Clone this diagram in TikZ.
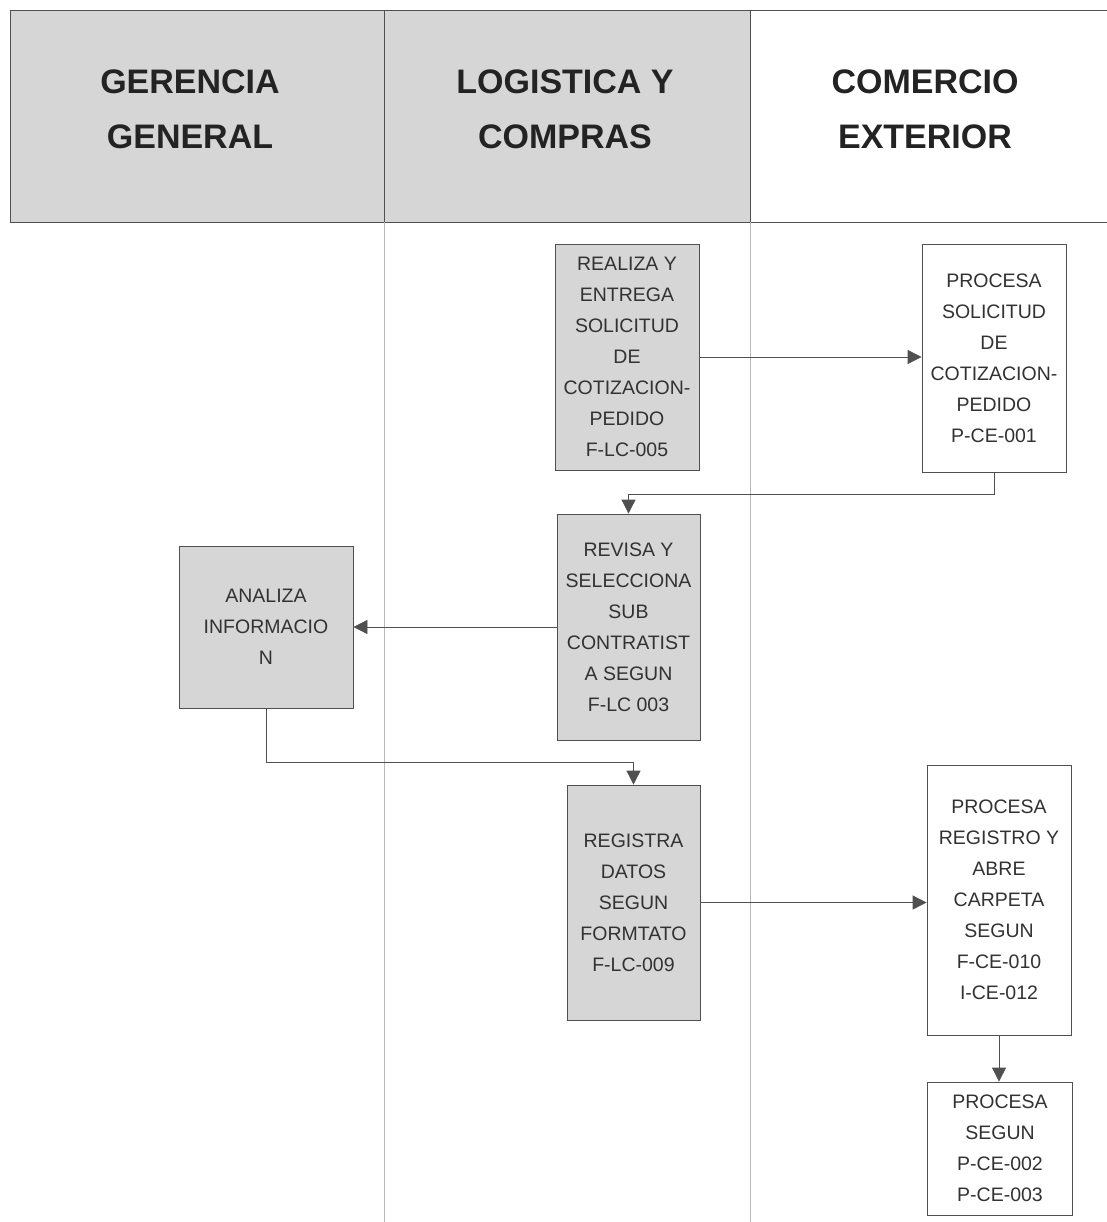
\documentclass[tikz,border=0pt]{standalone}
\usepackage{fontspec}
\setmainfont{Liberation Sans}
\usetikzlibrary{arrows.meta}
\definecolor{lanegray}{RGB}{214,214,214}
\definecolor{ink}{RGB}{50,50,50}
\definecolor{rule}{RGB}{80,80,80}
\begin{document}
\begin{tikzpicture}[x=1pt,y=-1pt,
  lanehead/.style={font=\fontsize{34}{55}\selectfont\bfseries, text=ink!70!black, align=center, inner sep=0},
  procbox/.style={draw=rule, line width=0.8pt, inner sep=0, align=center,
    text=ink, font=\fontsize{19.5}{31}\selectfont},
  grayproc/.style={procbox, fill=lanegray},
  flow/.style={draw=rule, line width=0.8pt, -{Triangle[length=14pt,width=14pt]}},
]
\path[use as bounding box] (0,0) rectangle (1107,1222);
\fill[white] (0,0) rectangle (1107,1222);

% header band of the three lanes
\fill[lanegray] (10,10) rectangle (750,222);
\draw[rule, line width=0.8pt] (1107,10) -- (10,10) -- (10,222) -- (1107,222);
\draw[rule, line width=0.6pt] (384,10) -- (384,222);
\draw[rule, line width=0.6pt] (750,10) -- (750,222);
% lane separators in the body
\draw[gray!55, line width=0.6pt] (384,222) -- (384,1222);
\draw[gray!55, line width=0.6pt] (750,222) -- (750,1222);

\node[lanehead] (h1) at (190,109) {GERENCIA\\GENERAL};
\node[lanehead] (h2) at (565,109) {LOGISTICA Y\\COMPRAS};
\node[lanehead] (h3) at (925,109) {COMERCIO\\EXTERIOR};

% process steps
\node[grayproc, minimum width=144, minimum height=226] (b1) at (627,357)
  {REALIZA Y\\ENTREGA\\SOLICITUD\\DE\\COTIZACION-\\PEDIDO\\F-LC-005};
\node[procbox, minimum width=144, minimum height=228] (b2) at (994,358)
  {PROCESA\\SOLICITUD\\DE\\COTIZACION-\\PEDIDO\\P-CE-001};
\node[grayproc, minimum width=143, minimum height=226] (b3) at (628.5,627)
  {REVISA Y\\SELECCIONA\\SUB\\CONTRATIST\\A SEGUN\\F-LC 003};
\node[grayproc, minimum width=174, minimum height=162] (b4) at (266,627)
  {ANALIZA\\INFORMACIO\\N};
\node[grayproc, minimum width=133, minimum height=235] (b5) at (633.5,902.5)
  {REGISTRA\\DATOS\\SEGUN\\FORMTATO\\F-LC-009};
\node[procbox, minimum width=144, minimum height=270] (b6) at (999,900)
  {PROCESA\\REGISTRO Y\\ABRE\\CARPETA\\SEGUN\\F-CE-010\\I-CE-012};
\node[procbox, minimum width=145, minimum height=133] (b7) at (1000,1148.5)
  {PROCESA\\SEGUN\\P-CE-002\\P-CE-003};

% connectors
\draw[flow] (b1.east) -- (b1.east -| b2.west);
\draw[flow] (b2.south) -- ++(0,22) -| (b3.north);
\draw[flow] (b3.west) -- (b3.west -| b4.east);
\draw[flow] (b4.south) -- ++(0,54) -| (b5.north);
\draw[flow] (b5.east) -- (b5.east -| b6.west);
\draw[flow] (b6.south) -- (b6.south |- b7.north);
\end{tikzpicture}
\end{document}
